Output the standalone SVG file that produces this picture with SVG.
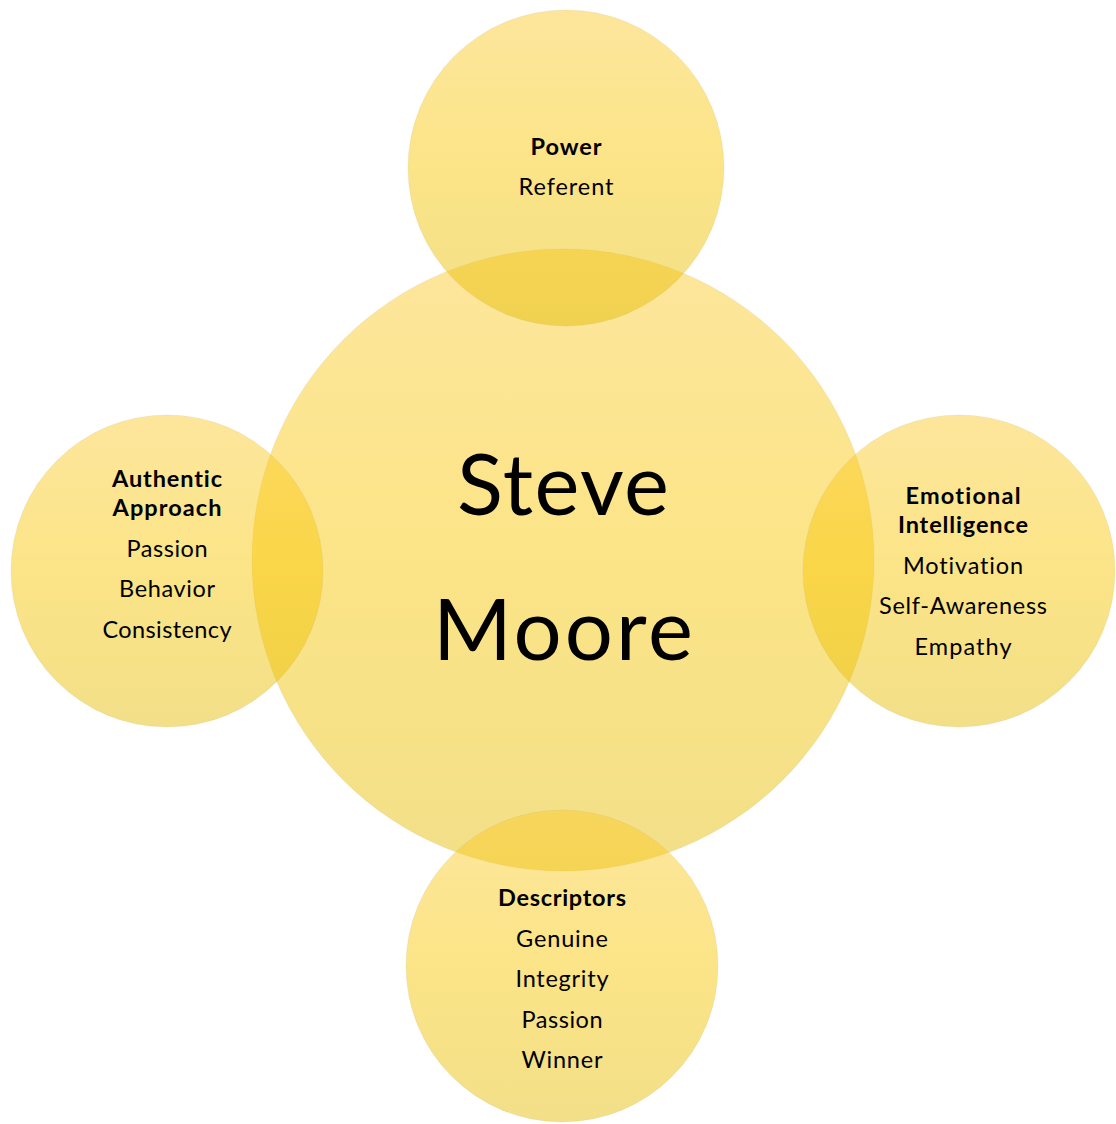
<svg xmlns="http://www.w3.org/2000/svg" width="1116" height="1124" viewBox="0 0 1116 1124">
  <defs>
    <linearGradient id="gold" x1="0" y1="0" x2="0" y2="1">
      <stop offset="0" stop-color="#FBCA2C"/>
      <stop offset="0.5" stop-color="#F8C600"/>
      <stop offset="1" stop-color="#E3BB00"/>
    </linearGradient>
    <style>
      .bubble { fill: url(#gold); fill-opacity: 0.47; stroke: #B8A878; stroke-opacity: 0.15; stroke-width: 1; }
      .t { font-family: Lato, "Open Sans", "Liberation Sans", sans-serif; fill: #000; text-anchor: middle;
           font-variant-ligatures: none; font-feature-settings: "liga" 0, "clig" 0; }
      .title { font-weight: bold; font-size: 23.5px; }
      .item { font-size: 23.5px; }
      .name { font-size: 85px; }
    </style>
  </defs>

  <!-- hub -->
  <g id="node-center">
    <circle class="bubble" cx="563" cy="560" r="311"/>
    <text class="t name" x="563" y="515" textLength="212">Steve</text>
    <text class="t name" x="563" y="660" textLength="260">Moore</text>
  </g>

  <!-- satellites -->
  <g id="node-power">
    <circle class="bubble" cx="566" cy="168" r="158"/>
    <text class="t title" x="566" y="155" textLength="71">Power</text>
    <text class="t item" x="566" y="195" textLength="95">Referent</text>
  </g>

  <g id="node-authentic">
    <circle class="bubble" cx="167" cy="571" r="156"/>
    <text class="t title" x="167" y="487" textLength="110">Authentic</text>
    <text class="t title" x="167" y="516" textLength="109">Approach</text>
    <text class="t item" x="167" y="557" textLength="81">Passion</text>
    <text class="t item" x="167" y="597" textLength="96">Behavior</text>
    <text class="t item" x="167" y="638" textLength="129">Consistency</text>
  </g>

  <g id="node-emotional">
    <circle class="bubble" cx="959" cy="571" r="156"/>
    <text class="t title" x="963" y="504" textLength="115">Emotional</text>
    <text class="t title" x="963" y="533" textLength="130">Intelligence</text>
    <text class="t item" x="963" y="574" textLength="120">Motivation</text>
    <text class="t item" x="963" y="614" textLength="168">Self-Awareness</text>
    <text class="t item" x="963" y="655" textLength="97">Empathy</text>
  </g>

  <g id="node-descriptors">
    <circle class="bubble" cx="562" cy="966" r="156"/>
    <text class="t title" x="562" y="906" textLength="128">Descriptors</text>
    <text class="t item" x="562" y="947" textLength="92">Genuine</text>
    <text class="t item" x="562" y="987" textLength="93">Integrity</text>
    <text class="t item" x="562" y="1028" textLength="81">Passion</text>
    <text class="t item" x="562" y="1068" textLength="81">Winner</text>
  </g>

  <!-- no connecting lines: the bubbles overlap the hub directly -->
  <g id="connectors"/>
</svg>
